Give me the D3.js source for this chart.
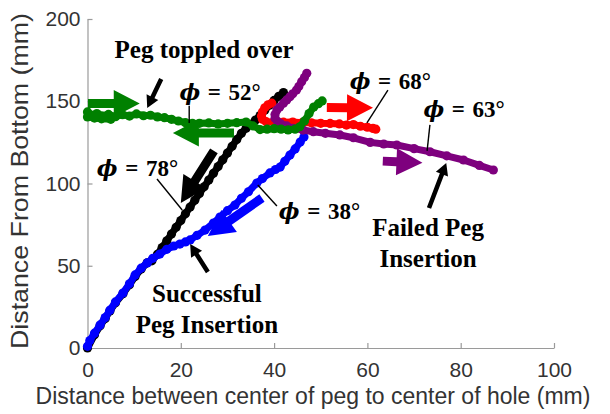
<!DOCTYPE html>
<html>
<head>
<meta charset="utf-8">
<script src="https://cdn.jsdelivr.net/npm/d3@7/dist/d3.min.js"></script>
<style>
  html, body { margin: 0; padding: 0; background: #fff; }
  svg { display: block; }
</style>
</head>
<body>
<svg id="chart" width="610" height="414"></svg>
<script>
// Peg trajectories: [distance between centres (mm), distance from bottom (mm)]
const pathBlack78 = [
  [0,0],[1.5,8],[2.7,13.5],[3.8,18],[4.8,22.5],[6,27.5],[7.6,33],[9,38.5],[10.2,43.5],
  [11.5,48],[12.8,51.8],[13.8,53],[15,57],[16,61.1],[17,65.2],[18,69.3],[19,73.4],[20,77.5],
  [21,81.6],[22,85.7],[23,89.8],[24,93.9],[25,98],[26,102.1],[27,106.2],[28,110.3],
  [29,114.4],[30,118.5],[31,122.6],[32,126.7],[33,130.5],[34,133.6],[35,136],[36,138.6],
  [37,141.3],[38,144.6],[39,147.6],[40,150.5],[41,153],[42,155.3]
];
const pathBlue38 = [
  [0,1],[0.5,4.5],[1.5,9],[2.7,14],[3.8,18.5],[4.8,23],[6,28],[7.6,33.4],[9,39],[10.2,44.4],
  [11.5,48.5],[12.8,51.7],[14,54.5],[15.5,57.1],[17,60],[18.5,62],[19.8,63.2],[21,64.5],
  [22,65.7],[23.5,68.5],[25.2,71.7],[27,76],[28.4,79.6],[30,83.5],[31.6,86.9],[33,91],
  [34.5,95],[36.3,100.3],[37.5,103],[39.1,106.4],[40.3,108.5],[41.3,110],[42.3,113.5],
  [43.4,117.3],[44.5,121],[45.6,125.2],[46.4,128.3]
];
const pathRed68 = [
  [39.5,148.8],[38.7,147.8],[38,146],[37.5,143.5],[37.3,141],[37.5,139],[38.3,137.6],
  [40,137.4],[42,137.3],[44,137.4],[46,137],[48,136.9],[50,136.6],[52,136.5],[54,136.2],
  [55.5,135.5],[57,135.8],[58.5,134.8],[60,134.2],[61.2,133.5],[61.8,133]
];
const pathPurple63 = [
  [47,167],[46.5,164.5],[45.9,161.9],[45.3,159],[44.8,156.8],[44,154.5],[43.4,152.8],
  [42.7,150.8],[42,148.8],[41.2,146.5],[40.6,144.7],[40.2,142],[40.2,139.6],[40.7,137.8],
  [41.3,136.6],[42.7,135],[44.1,133.6],[46.2,132.5],[48.4,131.5],[51,130.5],[54.1,129.5],
  [57,127.8],[60.6,125],[63.5,124],[66.3,123.4],[70,121.2],[73.4,119.3],[77,116.8],
  [80.6,114.3],[84,111],[87,108.2]
];
const pathGreen52 = [
  [5,139],[3,139.3],[1.5,139.8],[0,140.5],[0,143.5],[1,141.5],[2,142.5],[3,141.2],[4.5,142],
  [6,140.6],[7.5,141.8],[9,141],[10.5,142.3],[12,141.2],[13.5,141.5],[15,140.5],[16.5,140],
  [18,139],[19.5,138],[21,137],[22.5,136.5],[24,136.6],[26,136.8],[28,136.2],[30,136.6],
  [32,137],[34,137.4],[35.5,135],[37,132.8],[38.5,133],[40,133.3],[41.5,133],[43,132.6],
  [44.5,133],[45.5,134.5],[46.5,138],[47.5,142.5],[48.5,146.5],[49.5,148.5],[50.3,150.2]
];

const xTicks = [0, 20, 40, 60, 80, 100];
const yTicks = [0, 50, 100, 150, 200];
const xTitle = "Distance between center of peg to center of hole (mm)";
const yTitle = "Distance From Bottom (mm)";

const series = [
  { pts: pathBlack78,  color: "#000000" },
  { pts: pathBlue38,   color: "#0000ff" },
  { pts: pathRed68,    color: "#ff0000" },
  { pts: pathPurple63, color: "#7e007e" },
  { pts: pathGreen52,  color: "#008000" }
];

// Direction arrows (block style): from, to (data units), colour
const blockArrows = [
  { from: [0.1,148.6],  to: [11.2,148.6], color: "#008000" },
  { from: [31.4,130.7], to: [18.3,130.7], color: "#008000" },
  { from: [51.3,146.2], to: [61.2,146.0], color: "#ff0000" },
  { from: [63.3,113.6], to: [71.8,112.6], color: "#7e007e" },
  { from: [27.1,119.8], to: [20.0,88.1],  color: "#000000" },
  { from: [37.4,91.2],  to: [25.8,68.1],  color: "#0000ff" }
];
// Pointer arrows for the callouts
const pointerArrows = [
  { from: [15.8,163.5], to: [12.8,145.9] },
  { from: [25.8,46.2],  to: [22.0,63.2] },
  { from: [73.2,85.1],  to: [76.9,112.5] }
];
// Leader lines from angle labels to their curves
const leaders = [
  [[21.8,147.3],[21.8,136.8]],
  [[14.9,102.7],[20.3,83.9]],
  [[36.5,99.1],[40.6,86.3]],
  [[64.4,156.8],[59.9,136.8]],
  [[73.4,135.6],[72.8,119.8]]
];
// Angle labels: value, anchor position (data units, baseline-left)
const angleLabels = [
  { deg: 52, at: [19.7,150.5] },
  { deg: 78, at: [2.0,104.5] },
  { deg: 38, at: [41.0,78.3] },
  { deg: 68, at: [56.2,157.5] },
  { deg: 63, at: [72.0,140.4] }
];
// Callout texts: lines, centre x and first baseline (data units)
const callouts = [
  { lines: ["Peg toppled over"], at: [25.0,176.2] },
  { lines: ["Successful", "Peg Insertion"], at: [25.6,28.2] },
  { lines: ["Failed Peg", "Insertion"], at: [73.0,68.1] }
];

const svg = d3.select("#chart");
const x = d3.scaleLinear().domain([0, 100]).range([87.5, 554]);
const y = d3.scaleLinear().domain([0, 200]).range([348, 19]);

const axisColor = "#9a9a9a";
const textColor = "#333333";

// Axes (ticks point inwards, no box)
const gx = svg.append("g").attr("transform", `translate(0,${y(0)})`)
  .call(d3.axisBottom(x).tickValues(xTicks).tickFormat(d3.format("d"))
    .tickSizeInner(-5).tickSizeOuter(0).tickPadding(14));
const gy = svg.append("g").attr("transform", `translate(${x(0)},0)`)
  .call(d3.axisLeft(y).tickValues(yTicks).tickFormat(d3.format("d"))
    .tickSizeInner(-5).tickSizeOuter(0).tickPadding(7));
[gx, gy].forEach(g => {
  g.select(".domain").attr("stroke", axisColor).attr("stroke-width", 1.2);
  g.selectAll(".tick line").attr("stroke", axisColor).attr("stroke-width", 1.2);
  g.selectAll(".tick text").attr("fill", textColor)
    .style("font-family", "'Liberation Sans', Arial, sans-serif").style("font-size", "21px");
});

svg.append("text")
  .attr("x", 313).attr("y", 404)
  .attr("text-anchor", "middle")
  .attr("fill", textColor)
  .style("font-family", "'Liberation Sans', Arial, sans-serif").style("font-size", "23px")
  .text(xTitle);
svg.append("text")
  .attr("transform", `translate(28,181) rotate(-90)`)
  .attr("text-anchor", "middle")
  .attr("textLength", 336).attr("lengthAdjust", "spacingAndGlyphs")
  .attr("fill", textColor)
  .style("font-family", "'Liberation Sans', Arial, sans-serif").style("font-size", "24px")
  .text(yTitle);

// Trajectories: thick line with bead markers
const line = d3.line().x(d => x(d[0])).y(d => y(d[1]));
const gs = svg.append("g");
series.forEach(s => {
  const g = gs.append("g");
  g.append("path").attr("d", line(s.pts))
    .attr("fill", "none").attr("stroke", s.color)
    .attr("stroke-width", 7).attr("stroke-linejoin", "round").attr("stroke-linecap", "round");
  g.selectAll("circle").data(s.pts).join("circle")
    .attr("cx", d => x(d[0])).attr("cy", d => y(d[1])).attr("r", 4.6)
    .attr("fill", s.color);
});

function arrowPolygon(p0, p1, tailW, headW, headL) {
  const dx = p1[0] - p0[0], dy = p1[1] - p0[1];
  const len = Math.hypot(dx, dy);
  const ux = dx / len, uy = dy / len, nx = -uy, ny = ux;
  const bx = p1[0] - ux * headL, by = p1[1] - uy * headL;
  const pt = (px, py, w) => [px + nx * w / 2, py + ny * w / 2];
  return [
    pt(p0[0], p0[1], tailW), pt(bx, by, tailW), pt(bx, by, headW),
    p1, pt(bx, by, -headW), pt(bx, by, -tailW), pt(p0[0], p0[1], -tailW)
  ];
}

const ga = svg.append("g");
blockArrows.forEach(a => {
  const p0 = [x(a.from[0]), y(a.from[1])], p1 = [x(a.to[0]), y(a.to[1])];
  ga.append("polygon").attr("points", arrowPolygon(p0, p1, 9, 27, 26).join(" "))
    .attr("fill", a.color);
});
pointerArrows.forEach(a => {
  const p0 = [x(a.from[0]), y(a.from[1])], p1 = [x(a.to[0]), y(a.to[1])];
  ga.append("polygon").attr("points", arrowPolygon(p0, p1, 4.5, 13, 12).join(" "))
    .attr("fill", "#000");
});
leaders.forEach(l => {
  ga.append("line")
    .attr("x1", x(l[0][0])).attr("y1", y(l[0][1]))
    .attr("x2", x(l[1][0])).attr("y2", y(l[1][1]))
    .attr("stroke", "#000").attr("stroke-width", 1.4);
});

const serif = "'Liberation Serif', 'Times New Roman', serif";
angleLabels.forEach(a => {
  const t = svg.append("text")
    .attr("x", x(a.at[0])).attr("y", y(a.at[1]))
    .style("font-family", serif).style("font-size", "23px").style("font-weight", "bold")
    .attr("fill", "#000");
  t.append("tspan").style("font-style", "italic").style("font-family", "'DejaVu Serif', serif")
    .style("font-size", "22px").text("\u03D5");
  t.append("tspan").text("\u2004=\u2004" + a.deg + "\u00B0");
});
callouts.forEach(c => {
  const t = svg.append("text")
    .attr("text-anchor", "middle")
    .style("font-family", serif).style("font-size", "25px").style("font-weight", "bold")
    .attr("fill", "#000");
  c.lines.forEach((ln, i) => {
    t.append("tspan").attr("x", x(c.at[0])).attr("y", y(c.at[1]) + i * 31).text(ln);
  });
});
</script>
</body>
</html>
